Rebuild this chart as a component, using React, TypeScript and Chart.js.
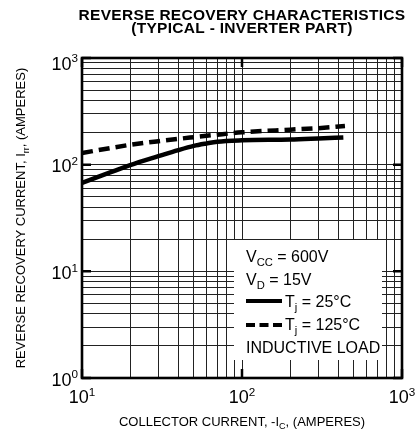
import React, { useEffect, useRef } from 'react';
import { Chart, registerables } from 'chart.js';

Chart.register(...registerables);

const titleLines = ['REVERSE RECOVERY CHARACTERISTICS', '(TYPICAL - INVERTER PART)'];

const currentTj25 = [10, 15, 20, 30, 40, 50, 60, 70, 100, 200, 300, 430];
const irrTj25 = [67.4, 84.6, 99, 120, 137, 150, 158, 164, 169, 172, 176, 180];

const currentTj125 = [10, 15, 20, 30, 50, 70, 100, 200, 300, 440];
const irrTj125 = [128.6, 143, 153.5, 166, 181, 191, 201, 213, 220, 230];

const xGridValues = [10, 20, 30, 40, 50, 60, 70, 80, 90, 100, 200, 300, 400, 500, 600, 700, 800, 900, 1000];
const yGridValues = [1, 2, 3, 4, 5, 6, 7, 8, 9, 10, 20, 30, 40, 50, 60, 70, 80, 90, 100, 200, 300, 400, 500, 600, 700, 800, 900, 1000];

const xMajorValues = [10, 100, 1000];
const xMajorExponents = ['1', '2', '3'];
const yMajorValues = [1, 10, 100, 1000];
const yMajorExponents = ['0', '1', '2', '3'];

const FONT = "'Liberation Sans', Arial, Helvetica, sans-serif";

type Part = [string, ('n' | 'sub' | 'sup')?];

function partFont(kind: string | undefined, size: number, bold = false) {
  const s = kind === 'sub' ? size * 0.7 : kind === 'sup' ? size * 0.65 : size;
  return `${bold ? 'bold ' : ''}${s}px ${FONT}`;
}

function drawRich(
  ctx: CanvasRenderingContext2D,
  parts: Part[],
  x: number,
  y: number,
  size: number,
  align: 'left' | 'center' | 'right' = 'left'
) {
  ctx.save();
  ctx.textAlign = 'left';
  ctx.textBaseline = 'alphabetic';
  let total = 0;
  const widths: number[] = [];
  for (const [t, k] of parts) {
    ctx.font = partFont(k, size);
    const w = ctx.measureText(t).width;
    widths.push(w);
    total += w;
  }
  let cx = align === 'left' ? x : align === 'center' ? x - total / 2 : x - total;
  parts.forEach(([t, k], i) => {
    ctx.font = partFont(k, size);
    const dy = k === 'sub' ? size * 0.27 : k === 'sup' ? -size * 0.4 : 0;
    ctx.fillText(t, cx, y + dy);
    cx += widths[i];
  });
  ctx.restore();
}

const decorPlugin = {
  id: 'decor',
  beforeDatasetsDraw(chart: any) {
    const { ctx, chartArea: a } = chart;
    ctx.save();
    ctx.fillStyle = '#fff';
    ctx.fillRect(a.left + 152, a.top + 182, 148, 120);
    ctx.restore();
  },
  afterDraw(chart: any) {
    const { ctx, chartArea: a } = chart;
    const xs = chart.scales.x;
    const ys = chart.scales.y;
    ctx.save();
    ctx.fillStyle = '#000';
    ctx.strokeStyle = '#000';

    // Border
    ctx.lineWidth = 2.6;
    ctx.strokeRect(a.left, a.top, a.right - a.left, a.bottom - a.top);

    // Major ticks
    ctx.lineWidth = 2.5;
    ctx.beginPath();
    xMajorValues.forEach((v) => {
      const px = xs.getPixelForValue(v);
      ctx.moveTo(px, a.bottom);
      ctx.lineTo(px, a.bottom - 9);
      ctx.moveTo(px, a.top);
      ctx.lineTo(px, a.top + 9);
    });
    yMajorValues.forEach((v) => {
      const py = ys.getPixelForValue(v);
      ctx.moveTo(a.left, py);
      ctx.lineTo(a.left + 9, py);
      ctx.moveTo(a.right, py);
      ctx.lineTo(a.right - 9, py);
    });
    ctx.stroke();

    // Tick labels
    xMajorValues.forEach((v, i) => {
      const px = xs.getPixelForValue(v);
      drawRich(ctx, [['10'], [xMajorExponents[i], 'sup']], px, a.bottom + 25, 18, 'center');
    });
    yMajorValues.forEach((v, i) => {
      const py = Math.max(ys.getPixelForValue(v) + 1, a.top + 5);
      drawRich(ctx, [['10'], [yMajorExponents[i], 'sup']], a.left - 4, py + 6.5, 18, 'right');
    });

    // Titles
    ctx.font = `bold 15.5px ${FONT}`;
    ctx.textAlign = 'center';
    ctx.textBaseline = 'alphabetic';
    (ctx as any).letterSpacing = '0.3px';
    const cxTitle = (a.left + a.right) / 2;
    ctx.fillText(titleLines[0], cxTitle, 20);
    ctx.fillText(titleLines[1], cxTitle, 33);
    (ctx as any).letterSpacing = '0px';

    // Axis titles
    drawRich(ctx, [['COLLECTOR CURRENT, -I'], ['C', 'sub'], [', (AMPERES)']], cxTitle, 425.5, 13, 'center');
    ctx.save();
    ctx.translate(25, (a.top + a.bottom) / 2);
    ctx.rotate(-Math.PI / 2);
    drawRich(ctx, [['REVERSE RECOVERY CURRENT, I'], ['rr', 'sub'], [', (AMPERES)']], 0, 0, 13, 'center');
    ctx.restore();

    // Legend
    const lx = a.left + 164;
    const ly = a.top;
    drawRich(ctx, [['V'], ['CC', 'sub'], [' = 600V']], lx, ly + 204, 16);
    drawRich(ctx, [['V'], ['D', 'sub'], [' = 15V']], lx, ly + 227, 16);
    ctx.lineWidth = 4;
    ctx.beginPath();
    ctx.moveTo(lx, ly + 243);
    ctx.lineTo(lx + 36, ly + 243);
    ctx.stroke();
    drawRich(ctx, [['T'], ['j', 'sub'], [' = 25°C']], lx + 39, ly + 249, 16);
    ctx.setLineDash([9, 4.5]);
    ctx.beginPath();
    ctx.moveTo(lx, ly + 267);
    ctx.lineTo(lx + 36, ly + 267);
    ctx.stroke();
    ctx.setLineDash([]);
    drawRich(ctx, [['T'], ['j', 'sub'], [' = 125°C']], lx + 39, ly + 272, 16);
    drawRich(ctx, [['INDUCTIVE LOAD']], lx, ly + 294.5, 16);

    ctx.restore();
  },
};

export default function App() {
  const ref = useRef<HTMLCanvasElement | null>(null);

  useEffect(() => {
    if (!ref.current) return;
    const chart = new Chart(ref.current, {
      type: 'line',
      data: {
        datasets: [
          {
            label: 'Tj = 25°C',
            data: currentTj25.map((x, i) => ({ x, y: irrTj25[i] })),
            borderColor: '#000',
            borderWidth: 4.5,
            pointRadius: 0,
            fill: false,
            cubicInterpolationMode: 'monotone',
          },
          {
            label: 'Tj = 125°C',
            data: currentTj125.map((x, i) => ({ x, y: irrTj125[i] })),
            borderColor: '#000',
            borderWidth: 4.5,
            borderDash: [11, 6],
            pointRadius: 0,
            fill: false,
            cubicInterpolationMode: 'monotone',
          },
        ],
      },
      options: {
        animation: false,
        responsive: false,
        layout: { padding: { left: 82, top: 58, right: 13, bottom: 52 } },
        plugins: {
          legend: { display: false },
          tooltip: { enabled: false },
          title: { display: false },
        },
        scales: {
          x: {
            type: 'logarithmic',
            min: 10,
            max: 1000,
            afterBuildTicks: (s: any) => {
              s.ticks = xGridValues.map((v) => ({ value: v }));
            },
            ticks: { display: false },
            grid: { color: '#222', lineWidth: 1, drawTicks: false },
            border: { display: false },
          },
          y: {
            type: 'logarithmic',
            min: 1,
            max: 1000,
            afterBuildTicks: (s: any) => {
              s.ticks = yGridValues.map((v) => ({ value: v }));
            },
            ticks: { display: false },
            grid: { color: '#222', lineWidth: 1, drawTicks: false },
            border: { display: false },
          },
        },
      } as any,
      plugins: [decorPlugin],
    });
    return () => chart.destroy();
  }, []);

  return (
    <div style={{ position: 'absolute', left: 0, top: 0, width: 415, height: 430, background: '#fff' }}>
      <canvas ref={ref} width={415} height={430} style={{ width: 415, height: 430, display: 'block' }} />
    </div>
  );
}
